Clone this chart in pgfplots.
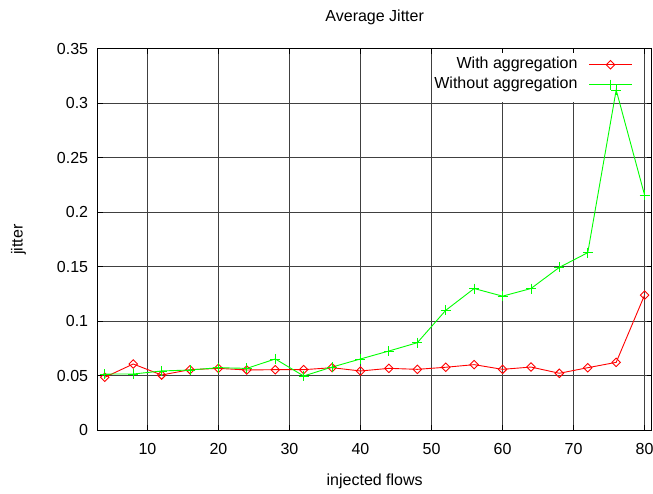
\documentclass[border=0pt]{standalone}
\usepackage{fontspec}
\setmainfont{Liberation Sans}
\usepackage{pgfplots}
\pgfplotsset{compat=1.18}
\definecolor{gred}{HTML}{FF0000}
\definecolor{ggreen}{HTML}{00FF00}
\definecolor{ggrid}{HTML}{404040}

\begin{document}
\fontsize{16bp}{19bp}\selectfont
\begin{tikzpicture}
\begin{axis}[
 at={(97.7bp,63.7bp)},anchor=south west,
 scale only axis,width=554bp,height=381.7bp,
 xmin=3,xmax=81,ymin=0,ymax=0.35,
 xtick={10,20,...,80},
 ytick={0,0.05,0.1,0.15,0.2,0.25,0.3,0.35},
 yticklabels={0,0.05,0.1,0.15,0.2,0.25,0.3,0.35},
 /pgf/number format/assume math mode=true,
 tick align=inside,major tick length=5bp,
 tick style={black,line width=0.8bp},
 axis line style={black,line width=1.2bp},
 grid=major,major grid style={draw=ggrid,line width=0.9bp},
 xticklabel style={inner sep=0pt,yshift=-13bp},
 yticklabel style={inner sep=0pt,xshift=-9.4bp},
 every axis title shift=0pt,
 title={Average Jitter},
 title style={at={(axis description cs:0.5,1.071)},anchor=base,inner sep=0pt},
 xlabel={injected flows},
 xlabel style={at={(axis description cs:0.5,-0.1459)},anchor=base,inner sep=0pt},
 ylabel={jitter},
 ylabel style={at={(axis description cs:-0.1431,0.5)},anchor=center,inner sep=0pt},
 legend cell align=right,legend plot pos=right,
 legend image code/.code={\draw[mark repeat=2,mark phase=2,#1]
   plot coordinates {(0bp,0bp) (21.5bp,0bp) (43bp,0bp)};},
 legend style={at={(axis description cs:0.9783,0.9832)},anchor=north east,
   fill=none,draw=none,inner xsep=7bp,inner ysep=1.5bp,
   row sep=4bp,column sep=11bp,
   nodes={inner sep=0pt,text height=12bp,text depth=4bp}},
]
% key area blanks the grid, data is drawn over it
\fill[white] (rel axis cs:0.6034,0.8601) rectangle (rel axis cs:0.9789,0.9872);
\addplot[gred,line width=0.9bp,mark=square,mark size=3bp,
  mark options={rotate=45,solid}] coordinates {
 (4,0.0486) (8,0.0608) (12,0.0507) (16,0.0556) (20,0.0568)
 (24,0.0553) (28,0.0556) (32,0.0556) (36,0.0574) (40,0.0544)
 (44,0.0568) (48,0.0559) (52,0.0578) (56,0.0602) (60,0.0559)
 (64,0.0580) (68,0.0523) (72,0.0574) (76,0.0623) (80,0.1240)};
\addlegendentry{With aggregation}
\addplot[ggreen,line width=0.9bp,mark=+,mark size=5bp] coordinates {
 (4,0.0516) (8,0.0516) (12,0.0544) (16,0.0553) (20,0.0574)
 (24,0.0568) (28,0.0654) (32,0.0498) (36,0.0580) (40,0.0654)
 (44,0.0727) (48,0.0803) (52,0.1100) (56,0.1300) (60,0.1230)
 (64,0.1300) (68,0.1494) (72,0.1629) (76,0.3120) (80,0.2157)};
\addlegendentry{Without aggregation}
\end{axis}
\pgfresetboundingbox
\path (0,0) rectangle (653bp,494bp);
\end{tikzpicture}
\end{document}
